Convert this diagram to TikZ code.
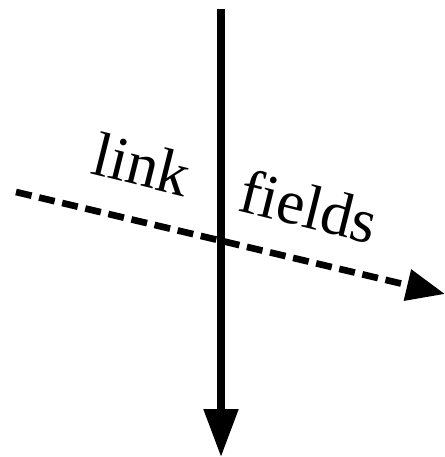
\documentclass[tikz,border=0pt]{standalone}
\usepackage{fontspec}
\setmainfont{Liberation Serif}
\usepackage{tikz}
\usetikzlibrary{arrows.meta}

\begin{document}
\begin{tikzpicture}[
  x=0.75pt, y=-0.75pt,
  every node/.style={font=\fontsize{47}{56}\selectfont, inner sep=0pt},
  axis/.style={line width=5.5pt, -{Triangle[length=36pt,width=25pt]}},
  flow/.style={line width=5pt, dash pattern=on 12pt off 5.8pt,
    -{Triangle[length=29pt,width=23pt]}},
  tag/.style={rotate=-14},
]
\useasboundingbox (0,0) rectangle (444,457);

% end points
\coordinate (top) at (221,9);
\coordinate (bottom) at (221,457);
\coordinate (in) at (16,192);
\coordinate (out) at (445,294);

% labels
\node[tag] (link) at (142,164) {link};
\node[tag] (fields) at (309,206) {fields};

% arrows
\draw[axis] (top) -- (bottom);
\draw[flow] (in) -- (out);

\end{tikzpicture}
\end{document}
